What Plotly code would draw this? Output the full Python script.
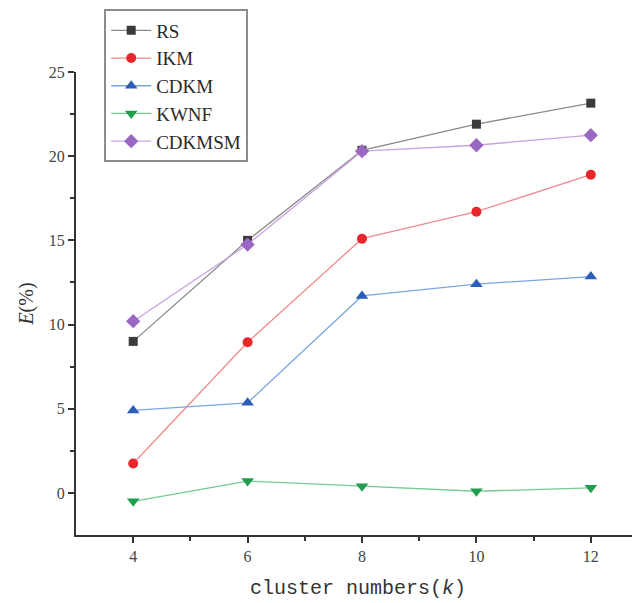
import plotly.graph_objects as go

k = [4, 6, 8, 10, 12]
rs = [9.0, 15.0, 20.35, 21.9, 23.15]
ikm = [1.75, 8.95, 15.1, 16.7, 18.9]
cdkm = [4.9, 5.35, 11.7, 12.4, 12.85]
kwnf = [-0.5, 0.7, 0.4, 0.1, 0.3]
cdkmsm = [10.2, 14.75, 20.3, 20.65, 21.25]

series = [
    ("RS", rs, "#8a8a8a", "#3a3a3a", "square", 9),
    ("IKM", ikm, "#f28a8a", "#e8262b", "circle", 10),
    ("CDKM", cdkm, "#7aa6e0", "#2a5cb8", "triangle-up", 11),
    ("KWNF", kwnf, "#74cc94", "#1f9e4e", "triangle-down", 11),
    ("CDKMSM", cdkmsm, "#c9a3df", "#9a68c2", "diamond", 11),
]

fig = go.Figure()
for name, vals, lc, mc, sym, sz in series:
    fig.add_trace(go.Scatter(
        x=k, y=vals, name=name, mode="lines+markers",
        line=dict(color=lc, width=1.3),
        marker=dict(symbol=sym, size=sz, color=mc, line=dict(width=0)),
    ))

serif = "Liberation Serif, DejaVu Serif, serif"
mono = "Liberation Mono, DejaVu Sans Mono, monospace"
fig.update_layout(
    width=632, height=595,
    margin=dict(l=68, r=0, t=64, b=68),
    paper_bgcolor="white", plot_bgcolor="white",
    font=dict(family=serif, color="#333333", size=16),
    showlegend=True,
    legend=dict(
        x=0.05, y=1.135, xanchor="left", yanchor="top",
        bordercolor="#8c8c8c", borderwidth=2, bgcolor="white",
        font=dict(family=serif, size=19, color="#2a2a2a"),
        tracegroupgap=0, itemwidth=40,
    ),
    xaxis=dict(
        range=[3, 12.86], tickvals=k, ticktext=[str(v) for v in k],
        showgrid=False, zeroline=False,
        showline=True, linecolor="#333333", linewidth=2,
        ticks="outside", ticklen=6, tickwidth=1.5, tickcolor="#333333",
        minor=dict(tickvals=[5, 7, 9, 11], ticks="outside", ticklen=4, tickwidth=1.5, tickcolor="#333333"),
        tickfont=dict(size=16, color="#444444"),
        title=dict(text="cluster numbers(<i>k</i>)", font=dict(family=mono, size=20, color="#333333"), standoff=16),
    ),
    yaxis=dict(
        range=[-2.5, 25], tickvals=[0, 5, 10, 15, 20, 25],
        showgrid=False, zeroline=False,
        showline=True, linecolor="#333333", linewidth=2,
        ticks="outside", ticklen=6, tickwidth=1.5, tickcolor="#333333",
        minor=dict(tickvals=[2.5, 7.5, 12.5, 17.5, 22.5], ticks="outside", ticklen=4, tickwidth=1.5, tickcolor="#333333"),
        tickfont=dict(size=16, color="#444444"),
        title=dict(text="<i>E</i>(%)", font=dict(size=20, color="#333333"), standoff=10),
    ),
)

fig.write_html("out.html")
